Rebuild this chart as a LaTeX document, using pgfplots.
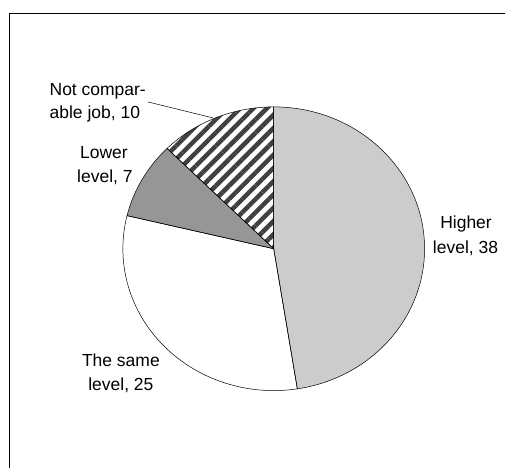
\documentclass[border=0pt]{standalone}
\usepackage{pgfplots}
\pgfplotsset{compat=1.18}
\usepackage{pgfplotstable}
\usetikzlibrary{patterns.meta}
\usepackage{fontspec}
\setmainfont{Liberation Sans}

\definecolor{higher}{RGB}{204,204,204}
\definecolor{lower}{RGB}{150,150,150}
\definecolor{hatch}{RGB}{64,64,64}

% share of respondents by level of the new job
\pgfplotstableread[col sep=comma]{
label,value
Higher level,38
The same level,25
Lower level,7
Not comparable job,10
}\jobdata

% start and end angle of each slice, clockwise from the top
\def\total{0}
\pgfplotsforeachungrouped \i in {0,1,2,3}{%
  \pgfplotstablegetelem{\i}{value}\of\jobdata
  \pgfmathsetmacro\total{\total+\pgfplotsretval}%
}
\def\cum{0}
\pgfplotsforeachungrouped \i in {0,1,2,3}{%
  \pgfplotstablegetelem{\i}{value}\of\jobdata
  \pgfmathsetmacro\stA{90-360*(\cum/\total)}%
  \pgfmathsetmacro\cum{\cum+\pgfplotsretval}%
  \pgfmathsetmacro\enA{90-360*(\cum/\total)}%
  \expandafter\xdef\csname sa\i\endcsname{\stA}%
  \expandafter\xdef\csname ea\i\endcsname{\enA}%
}

\tikzset{
  slice0/.style={fill=higher},
  slice1/.style={fill=white},
  slice2/.style={fill=lower},
  slice3/.style={fill=white, postaction={pattern={Lines[angle=45,distance=9.4bp,line width=4.5bp]}, pattern color=hatch}},
  lbl/.style={inner sep=0pt, font=\fontsize{17.5bp}{21bp}\selectfont},
}

\begin{document}
\begin{tikzpicture}
\begin{axis}[
    scale only axis,
    width=505bp, height=468bp,
    xmin=0, xmax=505, ymin=0, ymax=468,
    y dir=reverse,
    hide axis,
    clip=false,
]
\path (axis cs:0,0) (axis cs:505,468);
% frame
\draw[line width=1bp] (axis cs:10,468) -- (axis cs:10,14) -- (axis cs:505,14);

% slices
\pgfplotsinvokeforeach{0,1,2,3}{
  \path[slice#1] (axis cs:274,249) -- ++(\csname sa#1\endcsname:151bp and 142bp)
    arc[start angle=\csname sa#1\endcsname, end angle=\csname ea#1\endcsname, x radius=151bp, y radius=142bp] -- cycle;
}
\pgfplotsinvokeforeach{0,1,2,3}{
  \draw[line width=0.5bp] (axis cs:274,249) -- ++(\csname sa#1\endcsname:151bp and 142bp)
    arc[start angle=\csname sa#1\endcsname, end angle=\csname ea#1\endcsname, x radius=151bp, y radius=142bp] -- cycle;
}

% leader line
\draw[line width=0.5bp] (axis cs:148,102) -- (axis cs:213,118);

% labels
\node[lbl, anchor=base west] at (axis cs:49.5,96) {Not compar-};
\node[lbl, anchor=base west] at (axis cs:49.5,118.5) {able job, 10};
\node[lbl, anchor=base] at (axis cs:104,158.3) {Lower};
\node[lbl, anchor=base] at (axis cs:105,182.3) {level, 7};
\node[lbl, anchor=base] at (axis cs:466.5,229) {Higher};
\node[lbl, anchor=base] at (axis cs:466,253.3) {level, 38};
\node[lbl, anchor=base] at (axis cs:121,366.7) {The same};
\node[lbl, anchor=base] at (axis cs:121,390.7) {level, 25};
\end{axis}
\end{tikzpicture}
\end{document}
